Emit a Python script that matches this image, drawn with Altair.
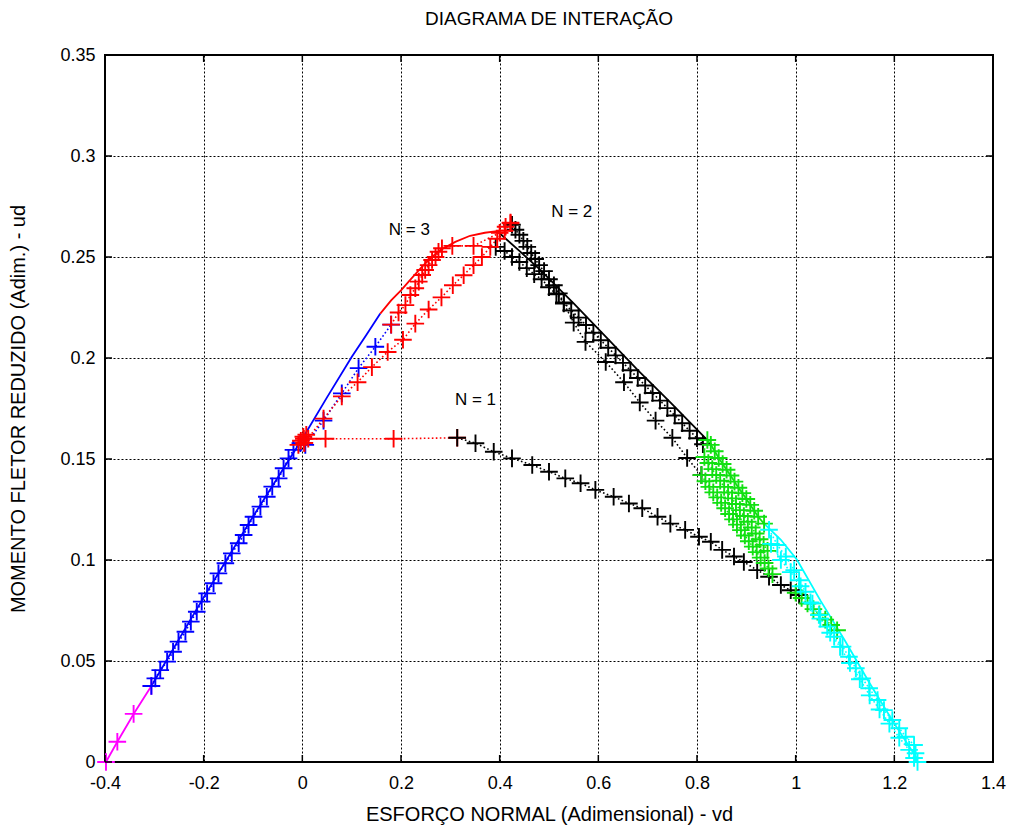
import altair as alt
import pandas as pd

# ---------------- axis ticks ----------------
x_ticks = [-0.4, -0.2, 0.0, 0.2, 0.4, 0.6, 0.8, 1.0, 1.2, 1.4]
y_ticks = [0.0, 0.05, 0.1, 0.15, 0.2, 0.25, 0.3, 0.35]

# ---------------- series ----------------
mag_x = [-0.398, -0.375, -0.342, -0.306]
mag_y = [0.0, 0.010, 0.0238, 0.0376]

blue_line_x = [-0.306, -0.2, -0.1, 0.0, 0.05, 0.1, 0.13, 0.158]
blue_line_y = [0.0376, 0.0815, 0.1215, 0.160, 0.1805, 0.2005, 0.2115, 0.222]

blue_pts_x = [-0.306, -0.298, -0.288, -0.274, -0.262, -0.251, -0.237, -0.226, -0.214, -0.204,
              -0.193, -0.180, -0.170, -0.156, -0.143, -0.129, -0.119, -0.109, -0.099, -0.085,
              -0.072, -0.061, -0.048, -0.038, -0.028, -0.018, -0.004, 0.006, 0.043, 0.080,
              0.114, 0.148, 0.180]
blue_pts_y = [0.0376, 0.0414, 0.0455, 0.0497, 0.0546, 0.0596, 0.0645, 0.0695, 0.0744, 0.0794,
              0.0835, 0.0885, 0.0934, 0.0984, 0.1033, 0.1083, 0.1124, 0.1173, 0.1214, 0.1264,
              0.1313, 0.1363, 0.1404, 0.1454, 0.1503, 0.1545, 0.1578, 0.157, 0.169, 0.1825,
              0.195, 0.2056, 0.2165]

red_line_x = [0.158, 0.18, 0.2, 0.22, 0.24, 0.26, 0.28, 0.31, 0.34, 0.37, 0.395]
red_line_y = [0.222, 0.2285, 0.2335, 0.239, 0.2445, 0.2495, 0.2535, 0.2575, 0.2605, 0.262, 0.2628]

red_org_x = [-0.008, -0.003, 0.002, 0.008, 0.012, 0.004]
red_org_y = [0.157, 0.159, 0.161, 0.162, 0.160, 0.158]

red_diag_x = [0.004, 0.043, 0.080, 0.112, 0.141, 0.173, 0.204, 0.229, 0.256, 0.282, 0.305,
              0.327, 0.347, 0.364, 0.381, 0.395, 0.410, 0.422]
red_diag_y = [0.158, 0.170, 0.181, 0.188, 0.1955, 0.203, 0.209, 0.217, 0.224, 0.230, 0.236,
              0.241, 0.246, 0.250, 0.255, 0.259, 0.263, 0.2667]

red_h_x = [0.003, 0.047, 0.185, 0.314]
red_h_y = [0.160, 0.160, 0.160, 0.1605]

red_up_x = [0.180, 0.195, 0.209, 0.219, 0.229, 0.236, 0.243, 0.249, 0.256, 0.263, 0.270, 0.276,
            0.283, 0.304, 0.347, 0.400, 0.412, 0.422]
red_up_y = [0.2165, 0.2225, 0.2262, 0.2312, 0.2345, 0.2378, 0.2411, 0.2436, 0.246, 0.2485, 0.250,
            0.2526, 0.2543, 0.2555, 0.2555, 0.262, 0.265, 0.267]

n1_x = [0.314, 0.351, 0.388, 0.425, 0.466, 0.500, 0.533, 0.564, 0.594, 0.631, 0.662, 0.689,
        0.720, 0.746, 0.776, 0.804, 0.828, 0.851, 0.875, 0.895, 0.922, 0.946, 0.970, 0.990, 1.007]
n1_y = [0.1605, 0.1578, 0.1536, 0.1503, 0.147, 0.1437, 0.1404, 0.138, 0.1347, 0.1313, 0.128,
        0.1256, 0.1214, 0.118, 0.1149, 0.1115, 0.109, 0.105, 0.1017, 0.099, 0.095, 0.0917,
        0.0876, 0.085, 0.0827]

blk_line_x = [0.395, 0.44, 0.479, 0.55, 0.611, 0.68, 0.746, 0.821]
blk_line_y = [0.2628, 0.253, 0.2444, 0.227, 0.2116, 0.194, 0.178, 0.1594]

n2a_x = [0.392, 0.41, 0.425, 0.44, 0.455, 0.47, 0.485, 0.5, 0.515, 0.53, 0.545, 0.56, 0.575,
         0.59, 0.605, 0.62, 0.635, 0.65, 0.665, 0.68, 0.695, 0.71, 0.725, 0.74, 0.755, 0.77,
         0.785, 0.80, 0.812]
n2a_y = [0.255, 0.253, 0.250, 0.2475, 0.2445, 0.2415, 0.239, 0.235, 0.2315, 0.2275, 0.2235,
         0.220, 0.2163, 0.2125, 0.2088, 0.2051, 0.2013, 0.1976, 0.1939, 0.1901, 0.1864, 0.1827,
         0.1789, 0.1752, 0.1715, 0.1677, 0.164, 0.1603, 0.1573]

n2b_x = [0.425, 0.432, 0.440, 0.448, 0.456, 0.464, 0.472, 0.480, 0.490, 0.500, 0.510, 0.520,
         0.530, 0.550, 0.574, 0.615, 0.652, 0.684, 0.716, 0.750, 0.780, 0.809]
n2b_y = [0.266, 0.2635, 0.261, 0.258, 0.255, 0.252, 0.249, 0.246, 0.243, 0.239, 0.236, 0.232,
         0.227, 0.2175, 0.208, 0.198, 0.188, 0.178, 0.169, 0.1605, 0.1505, 0.142]

grn_a_x = [0.821, 0.828, 0.836, 0.844, 0.852, 0.860, 0.868, 0.876, 0.884, 0.892, 0.900, 0.908,
           0.916, 0.924, 0.936]
grn_a_y = [0.1594, 0.157, 0.1538, 0.1505, 0.1475, 0.1447, 0.1418, 0.1388, 0.1358, 0.1331,
           0.1302, 0.1273, 0.1244, 0.1214, 0.118]

grn_m_x = [0.815, 0.823, 0.831, 0.839, 0.847, 0.855, 0.863, 0.871, 0.879, 0.887, 0.895, 0.903,
           0.911, 0.919, 0.927, 0.935, 0.943]
grn_m_y = [0.151, 0.148, 0.145, 0.1421, 0.1392, 0.1362, 0.1334, 0.1305, 0.1277, 0.1247, 0.1218,
           0.1189, 0.1161, 0.1131, 0.1103, 0.1075, 0.1045]

grn_b_x = [0.809, 0.817, 0.825, 0.833, 0.841, 0.849, 0.857, 0.865, 0.873, 0.881, 0.889, 0.897,
           0.905, 0.913, 0.921, 0.929, 0.937, 0.945, 0.953]
grn_b_y = [0.142, 0.139, 0.1362, 0.1335, 0.131, 0.1283, 0.1256, 0.1228, 0.1201, 0.1175, 0.1148,
           0.1121, 0.1093, 0.1066, 0.1039, 0.1012, 0.0985, 0.0958, 0.093]

grn_c_x = [1.0, 1.012, 1.024, 1.036, 1.048, 1.06, 1.072, 1.084]
grn_c_y = [0.0838, 0.0812, 0.0785, 0.0757, 0.0731, 0.0705, 0.0678, 0.0652]

cyan_line_x = [0.936, 0.97, 1.003, 1.05, 1.10, 1.15, 1.20, 1.24, 1.247]
cyan_line_y = [0.118, 0.110, 0.100, 0.080, 0.060, 0.039, 0.019, 0.004, 0.0]

cyan_a_x = [0.946, 0.963, 0.980, 0.997, 1.007, 1.020, 1.034, 1.047, 1.064, 1.078, 1.095, 1.108,
            1.122, 1.135, 1.149, 1.166, 1.179, 1.196, 1.210, 1.223, 1.240, 1.243, 1.247]
cyan_a_y = [0.115, 0.1074, 0.1017, 0.095, 0.090, 0.0843, 0.0785, 0.0728, 0.067, 0.062, 0.0571,
            0.0521, 0.0464, 0.0414, 0.0365, 0.0307, 0.0257, 0.0208, 0.0167, 0.0125, 0.0084,
            0.0043, 0.0]

cyan_b_x = [0.95, 0.97, 0.99, 1.01, 1.03, 1.05, 1.07, 1.09, 1.11, 1.13, 1.15, 1.17, 1.19,
            1.21, 1.23, 1.24]
cyan_b_y = [0.108, 0.100, 0.094, 0.087, 0.079, 0.071, 0.064, 0.057, 0.049, 0.041, 0.033,
            0.026, 0.019, 0.012, 0.006, 0.002]

lab_text = ["N = 3", "N = 2", "N = 1"]
lab_x = [0.217, 0.546, 0.351]
lab_y = [0.2634, 0.2723, 0.1792]

MAGENTA, BLUE, RED, BLACK, GREEN, CYAN = "#ff00ff", "#0000ff", "#ff0000", "#000000", "#11e011", "#00ffff"

series = [
    ("blk_line", blk_line_x, blk_line_y, BLACK, "solid", False),
    ("n2a", n2a_x, n2a_y, BLACK, "dot", True),
    ("n2b", n2b_x, n2b_y, BLACK, "dot", True),
    ("mag", mag_x, mag_y, MAGENTA, "solid", True),
    ("blue_line", blue_line_x, blue_line_y, BLUE, "solid", False),
    ("blue_pts", blue_pts_x, blue_pts_y, BLUE, "dot", True),
    ("red_line", red_line_x, red_line_y, RED, "solid", False),
    ("red_diag", red_diag_x, red_diag_y, RED, "dot", True),
    ("red_up", red_up_x, red_up_y, RED, "dot", True),
    ("red_h", red_h_x, red_h_y, RED, "dot", True),
    ("red_org", red_org_x, red_org_y, RED, "dot", True),
    ("n1", n1_x, n1_y, BLACK, "dot", True),
    ("grn_a", grn_a_x, grn_a_y, GREEN, "solid", True),
    ("grn_m", grn_m_x, grn_m_y, GREEN, "dot", True),
    ("grn_b", grn_b_x, grn_b_y, GREEN, "dot", True),
    ("grn_c", grn_c_x, grn_c_y, GREEN, "dot", True),
    ("cyan_line", cyan_line_x, cyan_line_y, CYAN, "solid", False),
    ("cyan_a", cyan_a_x, cyan_a_y, CYAN, "dot", True),
    ("cyan_b", cyan_b_x, cyan_b_y, CYAN, "dot", True),
]

rows = []
g = 0
for name, xs, ys, col, dash, mk in series:
    for i, (xv, yv) in enumerate(zip(xs, ys)):
        rows.append(dict(s=name, x=xv, y=yv, o=i, g=g, c=col, dash=dash, mk=mk))
        g += 1
df = pd.DataFrame(rows)

W, H = 888, 707
FONT = "Liberation Sans"
CROSS = "M -1 0 L 1 0 M 0 -1 L 0 1"

xscale = alt.Scale(domain=[-0.4, 1.4], nice=False, zero=False)
yscale = alt.Scale(domain=[0, 0.35], nice=False, zero=False)

label_expr = "replace(format(datum.value, '~g'), '\u2212', '-')"

xaxis = alt.Axis(values=x_ticks, title="ESFORÇO NORMAL (Adimensional) - vd", labelExpr=label_expr,
                 grid=True, ticks=False, domain=False, labelPadding=12, titlePadding=12,
                 labelFlush=False, labelOverlap=False,
                 labelFontSize=18, titleFontSize=20, titleFontWeight="normal", labelFont=FONT,
                 titleFont=FONT, labelColor="black", titleColor="black",
                 gridDash=[2, 2], gridColor="black", gridOpacity=1, gridWidth=1)
yaxis = alt.Axis(values=y_ticks, title="MOMENTO FLETOR REDUZIDO (Adim.) - ud", labelExpr=label_expr,
                 grid=True, ticks=False, domain=False, labelPadding=10, titlePadding=31,
                 labelFlush=False, labelOverlap=False,
                 labelFontSize=18, titleFontSize=20, titleFontWeight="normal", labelFont=FONT,
                 titleFont=FONT, labelColor="black", titleColor="black",
                 gridDash=[2, 2], gridColor="black", gridOpacity=1, gridWidth=1)

base = alt.Chart(df)
X = alt.X("x:Q", scale=xscale, axis=xaxis)
Y = alt.Y("y:Q", scale=yscale, axis=yaxis)

solid = base.transform_filter("datum.dash == 'solid'").mark_line(strokeWidth=1.8).encode(
    x=X, y=Y, detail="s:N", order="o:Q", color=alt.Color("c:N", scale=None))
dotted = base.transform_filter("datum.dash == 'dot'").mark_line(strokeWidth=1.6, strokeDash=[1.6, 2.4]).encode(
    x=X, y=Y, detail="s:N", order="o:Q", color=alt.Color("c:N", scale=None))
pts = base.transform_filter("datum.mk").mark_point(shape=CROSS, size=310, strokeWidth=1.9,
                                                   filled=False, opacity=1).encode(
    x=X, y=Y, color=alt.Color("c:N", scale=None), order="g:Q")

labels = alt.Chart(pd.DataFrame({"t": lab_text, "x": lab_x, "y": lab_y})).mark_text(
    font=FONT, fontSize=17, color="black").encode(x=X, y=Y, text="t:N")

xt = pd.DataFrame({"x": x_ticks})
yt = pd.DataFrame({"y": y_ticks})
TL = 7
tick_b = alt.Chart(xt).mark_rule(color="black", strokeWidth=1.5).encode(x=X, y=alt.value(H), y2=alt.value(H - TL))
tick_t = alt.Chart(xt).mark_rule(color="black", strokeWidth=1.5).encode(x=X, y=alt.value(0), y2=alt.value(TL))
tick_l = alt.Chart(yt).mark_rule(color="black", strokeWidth=1.5).encode(y=Y, x=alt.value(0), x2=alt.value(TL))
tick_r = alt.Chart(yt).mark_rule(color="black", strokeWidth=1.5).encode(y=Y, x=alt.value(W), x2=alt.value(W - TL))

chart = alt.layer(solid, dotted, pts, labels, tick_b, tick_t, tick_l, tick_r).properties(
    width=W, height=H,
    title=alt.Title("DIAGRAMA DE INTERAÇÃO", fontSize=19, font=FONT, fontWeight="normal",
                    color="black", anchor="middle", offset=17),
    autosize=alt.AutoSizeParams(type="none"),
    padding={"left": 105, "top": 55, "right": 18, "bottom": 66},
    background="white",
).configure_view(stroke="black", strokeWidth=2)

chart.save("out.html", embed_options={"renderer": "svg", "actions": False})
